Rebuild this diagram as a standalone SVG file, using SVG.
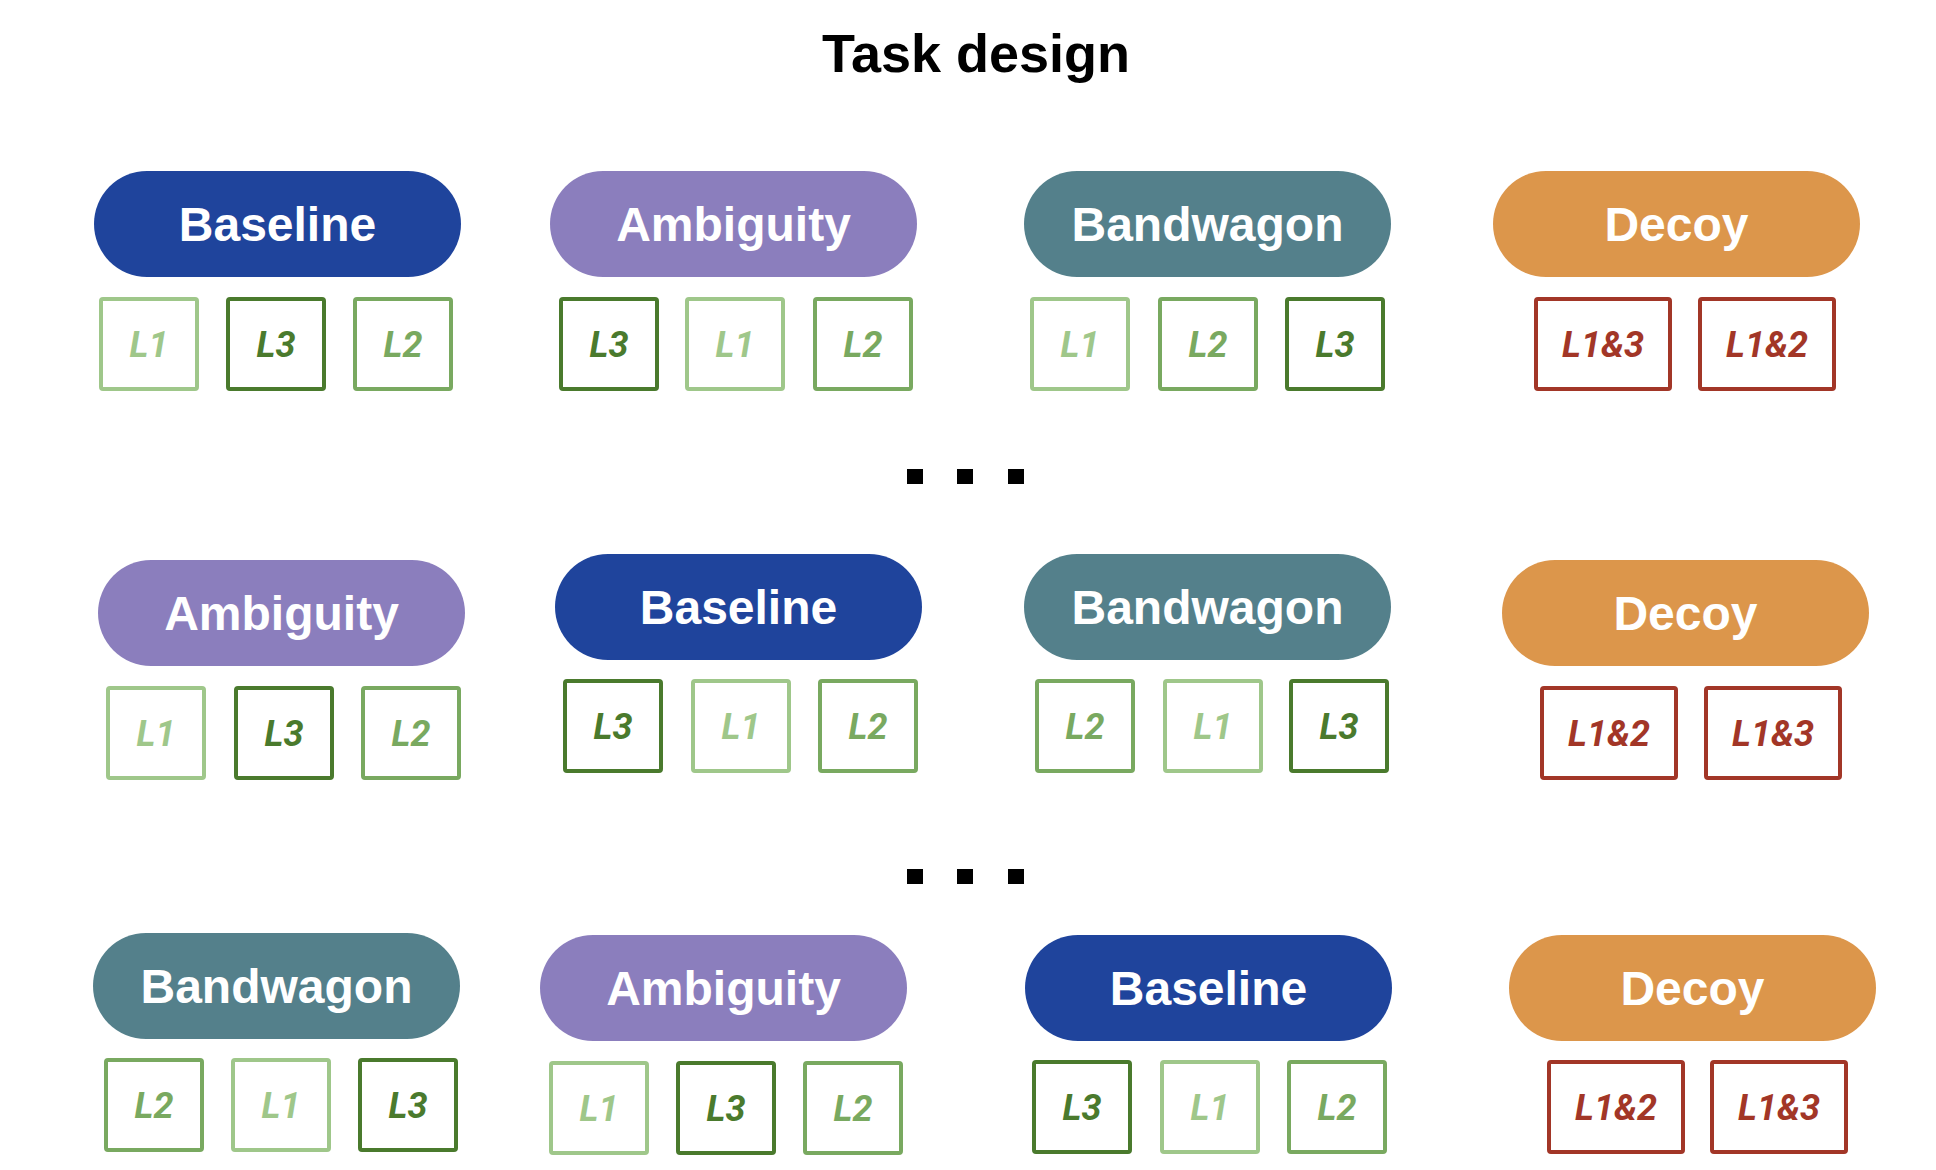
<svg xmlns="http://www.w3.org/2000/svg" width="1936" height="1170" viewBox="0 0 1936 1170">
<style>
.bg{fill:#ffffff}
.title{font-family:"Liberation Sans",Arial,sans-serif;font-weight:700;font-size:54px;fill:#000;text-anchor:middle}
.pill{stroke:none}
.base{fill:#1f449c}
.amb{fill:#8b7ebd}
.band{fill:#54808b}
.decoy{fill:#dc964b}
.pt{font-family:"Liberation Sans",Arial,sans-serif;font-weight:700;font-size:48px;fill:#fff;text-anchor:middle}
.box{fill:#fff;stroke-width:4}
.bt{font-family:Roboto,"Liberation Sans",sans-serif;font-weight:700;font-style:italic;font-size:36px;text-anchor:middle}
.l1{stroke:#9fc78a}
.l2{stroke:#79a960}
.l3{stroke:#4a7a2d}
.r{stroke:#a23627}
.t1{fill:#9fc78a}
.t2{fill:#79a960}
.t3{fill:#4a7a2d}
.tr{fill:#a23627}
.dot{fill:#000}
</style>
<rect class="bg" x="0" y="0" width="1936" height="1170"/>
<text class="title" x="976" y="72">Task design</text>

<g id="connectors"></g>

<!-- Row 1 -->
<g id="r1-baseline">
<rect class="pill base" x="94" y="171" width="367" height="106" rx="53"/>
<text class="pt" x="277.5" y="241">Baseline</text>
<rect class="box l1" x="101" y="299" width="96" height="90" rx="2"/><text class="bt t1" x="149" y="357">L1</text>
<rect class="box l3" x="228" y="299" width="96" height="90" rx="2"/><text class="bt t3" x="276" y="357">L3</text>
<rect class="box l2" x="355" y="299" width="96" height="90" rx="2"/><text class="bt t2" x="403" y="357">L2</text>
</g>
<g id="r1-ambiguity">
<rect class="pill amb" x="550" y="171" width="367" height="106" rx="53"/>
<text class="pt" x="733.5" y="241">Ambiguity</text>
<rect class="box l3" x="561" y="299" width="96" height="90" rx="2"/><text class="bt t3" x="609" y="357">L3</text>
<rect class="box l1" x="687" y="299" width="96" height="90" rx="2"/><text class="bt t1" x="735" y="357">L1</text>
<rect class="box l2" x="815" y="299" width="96" height="90" rx="2"/><text class="bt t2" x="863" y="357">L2</text>
</g>
<g id="r1-bandwagon">
<rect class="pill band" x="1024" y="171" width="367" height="106" rx="53"/>
<text class="pt" x="1207.5" y="241">Bandwagon</text>
<rect class="box l1" x="1032" y="299" width="96" height="90" rx="2"/><text class="bt t1" x="1080" y="357">L1</text>
<rect class="box l2" x="1160" y="299" width="96" height="90" rx="2"/><text class="bt t2" x="1208" y="357">L2</text>
<rect class="box l3" x="1287" y="299" width="96" height="90" rx="2"/><text class="bt t3" x="1335" y="357">L3</text>
</g>
<g id="r1-decoy">
<rect class="pill decoy" x="1493" y="171" width="367" height="106" rx="53"/>
<text class="pt" x="1676.5" y="241">Decoy</text>
<rect class="box r" x="1536" y="299" width="134" height="90" rx="2"/><text class="bt tr" x="1603" y="357">L1&amp;3</text>
<rect class="box r" x="1700" y="299" width="134" height="90" rx="2"/><text class="bt tr" x="1767" y="357">L1&amp;2</text>
</g>

<g id="dots1">
<rect class="dot" x="907" y="469" width="16" height="15"/>
<rect class="dot" x="957" y="469" width="16" height="15"/>
<rect class="dot" x="1008" y="469" width="16" height="15"/>
</g>

<!-- Row 2 -->
<g id="r2-ambiguity">
<rect class="pill amb" x="98" y="560" width="367" height="106" rx="53"/>
<text class="pt" x="281.5" y="630">Ambiguity</text>
<rect class="box l1" x="108" y="688" width="96" height="90" rx="2"/><text class="bt t1" x="156" y="746">L1</text>
<rect class="box l3" x="236" y="688" width="96" height="90" rx="2"/><text class="bt t3" x="284" y="746">L3</text>
<rect class="box l2" x="363" y="688" width="96" height="90" rx="2"/><text class="bt t2" x="411" y="746">L2</text>
</g>
<g id="r2-baseline">
<rect class="pill base" x="555" y="554" width="367" height="106" rx="53"/>
<text class="pt" x="738.5" y="624">Baseline</text>
<rect class="box l3" x="565" y="681" width="96" height="90" rx="2"/><text class="bt t3" x="613" y="739">L3</text>
<rect class="box l1" x="693" y="681" width="96" height="90" rx="2"/><text class="bt t1" x="741" y="739">L1</text>
<rect class="box l2" x="820" y="681" width="96" height="90" rx="2"/><text class="bt t2" x="868" y="739">L2</text>
</g>
<g id="r2-bandwagon">
<rect class="pill band" x="1024" y="554" width="367" height="106" rx="53"/>
<text class="pt" x="1207.5" y="624">Bandwagon</text>
<rect class="box l2" x="1037" y="681" width="96" height="90" rx="2"/><text class="bt t2" x="1085" y="739">L2</text>
<rect class="box l1" x="1165" y="681" width="96" height="90" rx="2"/><text class="bt t1" x="1213" y="739">L1</text>
<rect class="box l3" x="1291" y="681" width="96" height="90" rx="2"/><text class="bt t3" x="1339" y="739">L3</text>
</g>
<g id="r2-decoy">
<rect class="pill decoy" x="1502" y="560" width="367" height="106" rx="53"/>
<text class="pt" x="1685.5" y="630">Decoy</text>
<rect class="box r" x="1542" y="688" width="134" height="90" rx="2"/><text class="bt tr" x="1609" y="746">L1&amp;2</text>
<rect class="box r" x="1706" y="688" width="134" height="90" rx="2"/><text class="bt tr" x="1773" y="746">L1&amp;3</text>
</g>

<g id="dots2">
<rect class="dot" x="907" y="869" width="16" height="15"/>
<rect class="dot" x="957" y="869" width="16" height="15"/>
<rect class="dot" x="1008" y="869" width="16" height="15"/>
</g>

<!-- Row 3 -->
<g id="r3-bandwagon">
<rect class="pill band" x="93" y="933" width="367" height="106" rx="53"/>
<text class="pt" x="276.5" y="1003">Bandwagon</text>
<rect class="box l2" x="106" y="1060" width="96" height="90" rx="2"/><text class="bt t2" x="154" y="1118">L2</text>
<rect class="box l1" x="233" y="1060" width="96" height="90" rx="2"/><text class="bt t1" x="281" y="1118">L1</text>
<rect class="box l3" x="360" y="1060" width="96" height="90" rx="2"/><text class="bt t3" x="408" y="1118">L3</text>
</g>
<g id="r3-ambiguity">
<rect class="pill amb" x="540" y="935" width="367" height="106" rx="53"/>
<text class="pt" x="723.5" y="1005">Ambiguity</text>
<rect class="box l1" x="551" y="1063" width="96" height="90" rx="2"/><text class="bt t1" x="599" y="1121">L1</text>
<rect class="box l3" x="678" y="1063" width="96" height="90" rx="2"/><text class="bt t3" x="726" y="1121">L3</text>
<rect class="box l2" x="805" y="1063" width="96" height="90" rx="2"/><text class="bt t2" x="853" y="1121">L2</text>
</g>
<g id="r3-baseline">
<rect class="pill base" x="1025" y="935" width="367" height="106" rx="53"/>
<text class="pt" x="1208.5" y="1005">Baseline</text>
<rect class="box l3" x="1034" y="1062" width="96" height="90" rx="2"/><text class="bt t3" x="1082" y="1120">L3</text>
<rect class="box l1" x="1162" y="1062" width="96" height="90" rx="2"/><text class="bt t1" x="1210" y="1120">L1</text>
<rect class="box l2" x="1289" y="1062" width="96" height="90" rx="2"/><text class="bt t2" x="1337" y="1120">L2</text>
</g>
<g id="r3-decoy">
<rect class="pill decoy" x="1509" y="935" width="367" height="106" rx="53"/>
<text class="pt" x="1692.5" y="1005">Decoy</text>
<rect class="box r" x="1549" y="1062" width="134" height="90" rx="2"/><text class="bt tr" x="1616" y="1120">L1&amp;2</text>
<rect class="box r" x="1712" y="1062" width="134" height="90" rx="2"/><text class="bt tr" x="1779" y="1120">L1&amp;3</text>
</g>
</svg>
